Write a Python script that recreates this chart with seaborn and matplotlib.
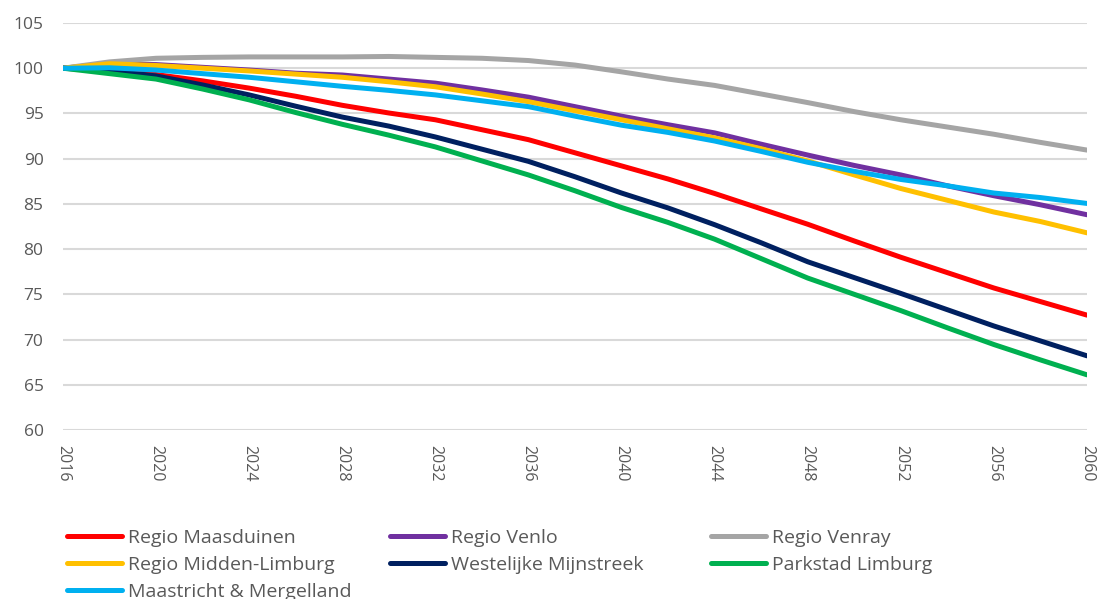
import matplotlib
matplotlib.use("Agg")
import matplotlib.pyplot as plt
import seaborn as sns
import pandas as pd
from matplotlib.lines import Line2D

years = [2016, 2018, 2020, 2022, 2024, 2026, 2028, 2030, 2032, 2034, 2036, 2038,
         2040, 2042, 2044, 2046, 2048, 2050, 2052, 2054, 2056, 2058, 2060]

regio_maasduinen = [100, 99.85, 99.3, 98.6, 97.8, 96.9, 95.9, 95.05, 94.3, 93.2, 92.1, 90.65,
                    89.2, 87.75, 86.15, 84.45, 82.75, 80.9, 79.1, 77.4, 75.7, 74.2, 72.7]
regio_venlo = [100, 100.5, 100.4, 100.1, 99.8, 99.45, 99.25, 98.8, 98.35, 97.6, 96.8, 95.75,
               94.7, 93.75, 92.85, 91.6, 90.4, 89.25, 88.2, 87.0, 85.9, 84.9, 83.8]
regio_venray = [100, 100.7, 101.1, 101.2, 101.25, 101.25, 101.25, 101.3, 101.2, 101.1, 100.85, 100.35,
                99.6, 98.8, 98.1, 97.15, 96.2, 95.2, 94.3, 93.5, 92.7, 91.8, 90.95]
regio_midden_limburg = [100, 100.5, 100.3, 100.0, 99.7, 99.35, 99.0, 98.5, 97.95, 97.15, 96.3, 95.3,
                        94.3, 93.3, 92.3, 91.1, 89.75, 88.2, 86.7, 85.4, 84.1, 83.05, 81.8]
westelijke_mijnstreek = [100, 99.7, 99.15, 98.15, 97.05, 95.8, 94.6, 93.6, 92.4, 91.05, 89.7, 88.0,
                         86.2, 84.55, 82.7, 80.7, 78.6, 76.85, 75.1, 73.3, 71.5, 69.85, 68.2]
parkstad_limburg = [100, 99.4, 98.8, 97.7, 96.5, 95.1, 93.8, 92.6, 91.3, 89.75, 88.2, 86.45,
                    84.6, 82.95, 81.1, 78.95, 76.8, 75.0, 73.2, 71.3, 69.45, 67.75, 66.1]
maastricht_mergelland = [100, 100.05, 99.8, 99.4, 99.0, 98.5, 98.0, 97.55, 97.05, 96.4, 95.75, 94.7,
                         93.7, 92.9, 91.95, 90.8, 89.6, 88.6, 87.7, 87.0, 86.2, 85.7, 85.05]

series_names = ["Regio Maasduinen", "Regio Venlo", "Regio Venray", "Regio Midden-Limburg",
                "Westelijke Mijnstreek", "Parkstad Limburg", "Maastricht & Mergelland"]
series_values = [regio_maasduinen, regio_venlo, regio_venray, regio_midden_limburg,
                 westelijke_mijnstreek, parkstad_limburg, maastricht_mergelland]
colors = ["#FF0000", "#7030A0", "#A5A5A5", "#FFC000", "#002060", "#00B050", "#00B0F0"]

y_ticks = [60, 65, 70, 75, 80, 85, 90, 95, 100, 105]
x_ticks = [2016, 2020, 2024, 2028, 2032, 2036, 2040, 2044, 2048, 2052, 2056, 2060]

sns.set_style("white")
plt.rcParams["font.family"] = ["Open Sans", "DejaVu Sans"]

rows = []
for name, vals in zip(series_names, series_values):
    for yr, v in zip(years, vals):
        rows.append({"Jaar": yr, "Index": v, "Regio": name})
df = pd.DataFrame(rows)

fig = plt.figure(figsize=(10.98, 5.99), dpi=100)
ax = fig.add_axes([63 / 1098, (599 - 430) / 599, 1024 / 1098, 407 / 599])

sns.lineplot(data=df, x="Jaar", y="Index", hue="Regio", hue_order=series_names,
             palette=dict(zip(series_names, colors)), linewidth=3.6, ax=ax,
             legend=False, solid_capstyle="round", solid_joinstyle="round")

ax.set_xlim(2016, 2060)
ax.set_ylim(60, 105)
ax.set_xticks(x_ticks)
ax.set_xticklabels([str(x) for x in x_ticks], rotation=270, fontsize=11.5, color="#595959")
ax.set_yticks(y_ticks)
ax.set_yticklabels([str(y) for y in y_ticks], fontsize=12.5, color="#595959")
ax.tick_params(axis="y", length=0, pad=14)
ax.tick_params(axis="x", length=0, pad=11)
ax.grid(axis="y", color="#D9D9D9", linewidth=1.5)
ax.grid(axis="x", visible=False)
ax.set_axisbelow(True)
for s in ax.spines.values():
    s.set_visible(False)
ax.set_xlabel("")
ax.set_ylabel("")

legend_font = {"family": ["Open Sans", "DejaVu Sans"], "size": 14}
col_x = [67 / 1098, 390 / 1098, 711 / 1098]
columns = [[0, 3, 6], [1, 4], [2, 5]]
for cx, idxs in zip(col_x, columns):
    handles = [Line2D([], [], color=colors[i], linewidth=3.6, solid_capstyle="round") for i in idxs]
    labels = [series_names[i] for i in idxs]
    leg = fig.legend(handles, labels, loc="upper left", bbox_to_anchor=(cx, 1 - 529 / 599),
                     frameon=False, prop=legend_font, handlelength=2.85, handletextpad=0.3,
                     labelspacing=0.46, borderpad=0, borderaxespad=0)
    for t in leg.get_texts():
        t.set_color("#595959")

fig.savefig("out.png", dpi=100)
